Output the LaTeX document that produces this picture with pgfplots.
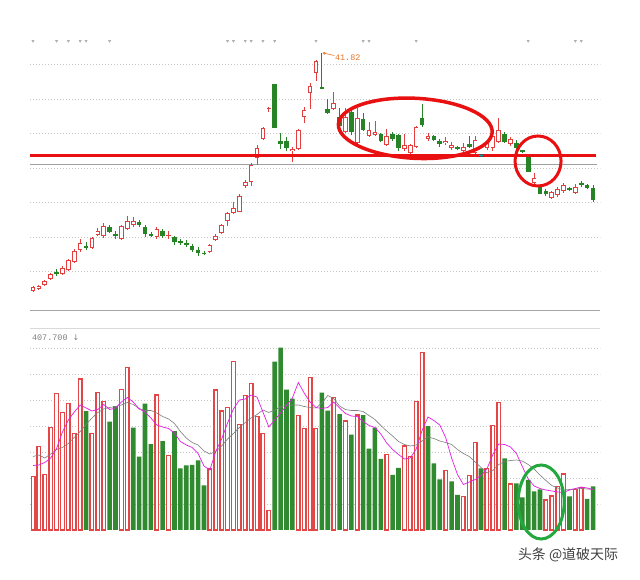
\documentclass[border=0pt]{standalone}
\usepackage{fontspec}
\setmainfont{Liberation Sans}
\newfontfamily\monofont{Liberation Mono}
\newfontfamily\cjk{Noto Sans CJK SC}
\newfontfamily\symfont{DejaVu Sans}
\usepackage{pgfplots}
\pgfplotsset{compat=1.18}
\usepackage{pgfplotstable}
\usetikzlibrary{arrows.meta}

\definecolor{candleRed}{RGB}{228,62,62}
\definecolor{volRed}{RGB}{226,70,70}
\definecolor{candleGreen}{RGB}{38,132,38}
\definecolor{volGreen}{RGB}{48,138,48}
\definecolor{maPink}{RGB}{228,30,228}
\definecolor{maGray}{RGB}{125,125,125}
\definecolor{markRed}{RGB}{232,16,16}
\definecolor{markGreen}{RGB}{34,168,62}
\definecolor{labelOrange}{RGB}{228,118,40}
\definecolor{tealC}{RGB}{20,160,160}

% candles: i open high low close (price)
\pgfplotstableread{
i o h l c
0 18.0 18.5 17.9 18.4
1 18.2 18.6 18.1 18.5
2 18.6 19.1 18.5 19.0
3 19.2 19.8 19.1 19.7
5 19.7 20.5 19.6 20.3
6 20.1 21.2 20.0 21.1
7 20.9 22.2 20.8 22.0
8 22.1 23.2 21.9 22.8
10 22.3 23.4 22.2 23.3
11 23.6 24.3 23.5 24.0
12 23.5 24.8 23.3 24.5
15 23.2 24.6 23.1 24.5
16 24.2 25.5 24.1 25.0
17 24.6 25.4 24.4 25.0
21 23.4 24.4 23.2 24.2
23 23.5 24.0 23.2 23.6
30 21.9 22.7 21.8 22.6
31 23.1 23.7 23.0 23.5
32 23.8 24.7 23.7 24.6
33 25.0 25.9 24.5 25.8
34 25.8 26.9 25.7 26.3
35 25.9 27.7 25.9 27.5
36 28.5 29.1 28.3 28.9
37 28.9 30.8 28.5 30.6
38 31.3 32.6 30.6 32.3
39 33.2 34.4 33.1 34.3
40 36.2 36.4 35.9 36.3
44 32.0 32.4 30.9 32.2
45 32.2 34.2 32.1 34.1
46 35.4 36.4 34.8 36.1
47 37.8 38.8 36.2 38.5
48 39.8 41.1 39.0 41.0
51 36.2 37.9 36.1 36.8
53 33.9 36.3 33.8 35.4
55 32.8 36.3 32.7 35.3
57 33.5 34.9 33.4 34.1
58 33.6 35.0 33.5 33.9
60 32.6 34.2 32.5 33.5
63 32.2 33.7 32.0 32.6
64 31.8 32.7 31.4 32.6
65 32.4 34.5 32.3 34.4
67 33.2 33.8 33.0 33.5
70 32.8 33.4 32.6 33.0
71 32.3 32.9 32.1 32.6
73 32.0 32.8 31.8 32.4
75 31.8 33.5 31.6 33.1
77 32.3 33.0 32.1 32.8
78 32.3 34.1 32.0 33.5
79 32.9 35.3 32.8 34.1
81 32.7 33.4 32.5 33.2
85 28.8 29.8 28.7 29.3
88 27.3 28.0 27.2 27.9
89 27.6 28.4 27.4 28.2
90 28.0 28.8 27.8 28.6
92 27.8 28.7 27.7 28.4
}\upcandles

\pgfplotstableread{
i o h l c
4 19.9 20.2 19.5 19.7
9 22.5 22.9 22.1 22.3
13 24.4 24.6 23.8 23.9
14 23.7 24.0 23.2 23.5
18 24.9 25.1 24.4 24.6
19 24.4 24.6 23.4 23.7
20 23.7 23.9 23.4 23.5
22 24.0 24.2 23.3 23.5
24 23.4 23.5 22.6 22.9
25 23.0 23.2 22.6 22.8
26 22.8 23.1 22.4 22.6
27 22.5 22.7 21.9 22.1
28 22.1 22.4 21.5 21.8
29 21.8 22.0 21.6 21.7
41 38.7 38.7 34.3 34.3
42 33.0 33.8 32.2 32.7
43 33.0 33.4 32.0 32.3
49 38.4 41.82 38.2 38.25
50 36.2 37.2 35.7 35.8
52 35.4 36.3 34.1 34.5
54 35.9 36.4 33.6 33.9
56 35.2 35.8 34.0 34.1
59 33.7 33.8 32.9 33.0
61 33.7 33.9 33.0 33.2
62 33.6 33.7 32.0 32.3
66 35.3 36.7 34.4 34.6
68 33.5 33.6 33.0 33.1
69 33.0 33.2 32.4 32.7
72 32.35 32.5 32.1 32.2
74 32.7 33.5 32.3 32.4
80 33.7 33.9 32.8 32.9
82 32.8 33.1 32.1 32.3
83 32.05 32.1 31.8 31.85
84 31.4 31.5 29.9 29.9
86 28.4 28.5 27.7 27.7
87 28.0 28.2 27.5 27.7
91 28.3 28.4 28.0 28.1
93 28.8 29.0 28.4 28.6
94 28.6 28.7 28.2 28.3
95 28.3 28.6 26.9 27.1
}\downcandles

\pgfplotstableread{
i o h l c
76 31.7 31.8 31.4 31.4
}\tealcandle

% volume
\pgfplotstableread{
i v
0 107
1 167
2 111
3 205
4 273
5 235
6 253
7 193
8 302
10 193
11 275
12 257
15 281
16 325
21 270
23 149
30 122
31 280
32 238
33 245
34 337
35 211
36 269
37 293
38 227
39 193
40 39
45 229
46 203
47 305
48 203
51 265
53 218
55 230
60 151
63 168
64 147
65 257
66 355
70 119
73 67
74 109
75 175
77 123
78 209
79 255
81 92
87 60
88 68
89 87
90 112
92 81
93 85
}\volup

\pgfplotstableread{
i v
9 238
13 217
14 248
17 205
18 147
19 253
20 172
22 178
24 198
25 123
26 129
27 130
28 139
29 89
41 337
42 365
43 281
44 263
49 275
50 239
52 232
54 191
56 230
57 163
58 205
59 142
61 110
62 124
67 208
68 133
69 101
71 97
72 70
76 123
80 143
82 93
83 65
84 100
85 77
86 81
91 67
94 62
95 87
}\voldown

\pgfplotstableread{
i ma5 ma10
0 129 147
1 130 150
2 135 144
3 144 152
4 163 161
5 196 165
6 220 173
7 236 185
8 250 197
9 244 211
10 238 224
11 241 235
12 251 242
13 241 245
14 244 247
15 256 250
16 265 255
17 256 251
18 242 243
19 236 239
20 224 239
21 210 234
22 206 227
23 203 222
24 194 213
25 177 197
26 170 184
27 165 175
28 153 170
29 128 158
30 120 152
31 157 157
32 182 168
33 214 182
34 242 193
35 260 205
36 262 215
37 270 224
38 266 231
39 236 240
40 206 235
41 220 240
42 234 246
43 249 250
44 264 250
45 295 250
46 274 247
47 256 245
48 245 244
49 243 254
50 245 269
51 256 263
52 244 248
53 233 241
54 228 239
55 227 239
56 217 237
57 209 229
58 205 221
59 192 209
60 174 198
61 161 188
62 151 177
63 142 171
64 144 168
65 162 170
66 199 178
67 226 186
68 219 183
69 210 178
70 185 175
71 144 171
72 111 161
73 91 153
74 96 147
75 101 136
76 109 125
77 122 114
78 151 119
79 172 131
80 171 137
81 166 139
82 153 140
83 127 138
84 102 131
85 88 122
86 83 110
87 80 99
88 78 89
89 76 84
90 75 80
91 80 81
92 83 82
93 86 83
94 84 82
95 81 81
}\volma

\pgfplotsset{
  panel/.style={
    scale only axis, anchor=south west,
    width=570bp,
    xmin=-0.509, xmax=96.18,
    axis line style={draw=none},
    tick style={draw=none},
    xtick=\empty, yticklabels={}, extra y tick labels={},
    ymajorgrids,
    grid style={gray!45, dash pattern=on 0.8bp off 2.2bp},
    clip=false,
  },
  wick/.style={draw=none, mark=none, forget plot,
    error bars/.cd, y dir=both, y explicit, error mark=none,
    error bar style={draw=#1, line width=0.8bp}},
  body/.style 2 args={draw=none, mark=none, forget plot,
    error bars/.cd, y dir=both, y explicit, error mark=none,
    error bar style={draw=#1, line width=#2}},
}

\begin{document}
\begin{tikzpicture}
\fill[white] (0bp,0bp) rectangle (640bp,580bp);

% price panel
\begin{axis}[panel, at={(30bp,270bp)}, height=270bp,
  ymin=16.1, ymax=43.1,
  ytick={19.97,23.42,26.87,30.32,33.77,37.22,40.67},
  extra y ticks={16.1},
  extra y tick style={grid style={solid, gray!70, line width=0.6bp}},
]
% support line
\addplot[gray!75, line width=1bp, forget plot] coordinates {(-0.5,30.63) (95.7,30.63)};

% up candles (hollow red)
\addplot[wick=candleRed] table[x=i, y expr={(\thisrow{h}+\thisrow{l})/2}, y error expr={(\thisrow{h}-\thisrow{l})/2}] {\upcandles};
\addplot[body={candleRed}{4.6bp}] table[x=i, y expr={(\thisrow{o}+\thisrow{c})/2}, y error expr={max(abs(\thisrow{c}-\thisrow{o})/2,0.07)}] {\upcandles};
\addplot[body={white}{2.8bp}] table[x=i, y expr={(\thisrow{o}+\thisrow{c})/2}, y error expr={max(abs(\thisrow{c}-\thisrow{o})/2-0.09,0)}] {\upcandles};

% down candles (filled green)
\addplot[wick=candleGreen] table[x=i, y expr={(\thisrow{h}+\thisrow{l})/2}, y error expr={(\thisrow{h}-\thisrow{l})/2}] {\downcandles};
\addplot[body={candleGreen}{4.6bp}] table[x=i, y expr={(\thisrow{o}+\thisrow{c})/2}, y error expr={max(abs(\thisrow{c}-\thisrow{o})/2,0.07)}] {\downcandles};

% red level line
\addplot[markRed, line width=3bp, forget plot] coordinates {(-0.51,31.53) (95.5,31.53)};

% selected candle
\addplot[body={black!70}{5bp}] table[x=i, y expr={(\thisrow{o}+\thisrow{c})/2}, y error expr={abs(\thisrow{c}-\thisrow{o})/2}] {\tealcandle};
\addplot[body={tealC}{3.4bp}] table[x=i, y expr={(\thisrow{o}+\thisrow{c})/2}, y error expr={abs(\thisrow{c}-\thisrow{o})/2-0.06}] {\tealcandle};

% event markers along the top
\addplot[only marks, mark=triangle*, mark size=1.3bp, mark options={rotate=180, fill=gray!65, draw=gray!65}, forget plot]
coordinates {(0,43.0) (4,43.0) (6,43.0) (8,43.0) (9,43.0) (13,43.0) (33,43.0) (34,43.0) (36,43.0) (37,43.0)
(39,43.0) (41,43.0) (48,43.0) (56,43.0) (57,43.0) (65,43.0) (84,43.0) (92,43.0) (93,43.0)};

% annotations
\draw[markRed, line width=3.5bp] (axis cs:64.85,34.27) ellipse [x radius=77bp, y radius=30bp, rotate=-3];
\draw[markRed, line width=3bp] (axis cs:85.67,31.0) ellipse [x radius=23bp, y radius=25bp];
\draw[labelOrange, line width=0.6bp, -{Stealth[length=3bp,width=3bp]}] (axis cs:51.1,41.55) -- (axis cs:49.1,41.82);
\node[anchor=west, text=labelOrange, font=\monofont\fontsize{8.5}{9}\selectfont, inner sep=0pt] at (axis cs:51.2,41.37) {41.82};
\end{axis}

% volume panel
\begin{axis}[panel, at={(30bp,50bp)}, height=205bp,
  ymin=0, ymax=410,
  ytick={52,104,156,208,260,312,364},
  extra y ticks={404},
  extra y tick style={grid style={solid, gray!30, line width=0.6bp}},
]
\addplot[ybar, bar width=3.6bp, bar shift=0pt, draw=volRed, fill=white, line width=1.4bp, forget plot] table[x=i, y=v] {\volup};
\addplot[ybar, bar width=4.6bp, bar shift=0pt, draw=none, fill=volGreen, forget plot] table[x=i, y=v] {\voldown};
\addplot[maGray, line width=0.6bp] table[x=i, y=ma10] {\volma};
\addplot[maPink, line width=0.7bp] table[x=i, y=ma5] {\volma};
\draw[markGreen, line width=3bp] (axis cs:86.2,56) ellipse [x radius=23bp, y radius=37bp];
\node[anchor=west, text=gray, font=\monofont\fontsize{8.5}{9}\selectfont, inner sep=0pt] at (axis cs:-0.2,384.6) {407.700 {\symfont\fontsize{8}{9}\selectfont ↓}};
\end{axis}

\node[anchor=center, text=black!75, font=\cjk\fontsize{14}{16}\selectfont] at (568bp,25bp) {头条 @道破天际};

\pgfresetboundingbox
\path[use as bounding box] (0bp,0bp) rectangle (640bp,580bp);
\end{tikzpicture}
\end{document}
